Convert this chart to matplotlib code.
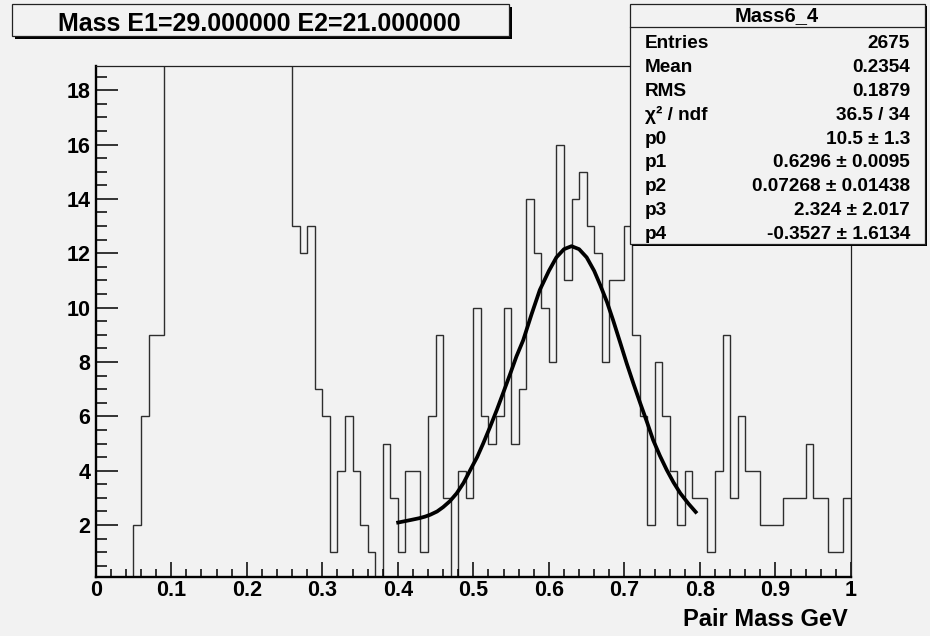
import numpy as np
import matplotlib
matplotlib.use("Agg")
import matplotlib.pyplot as plt
from matplotlib.patches import Rectangle
from matplotlib.ticker import MultipleLocator, FixedLocator, FixedFormatter

plt.rcParams['font.family'] = ['Liberation Sans', 'DejaVu Sans']
plt.rcParams['font.weight'] = 'bold'

# ---------------- data ----------------
x_min, x_max, n_bins = 0.0, 1.0, 100
counts_low = [0, 0, 0, 0, 0, 2, 6, 9, 9]                      # 0.00 - 0.08
counts_offscale = [45, 85, 120, 150, 175, 190, 200, 195, 185,  # 0.09 - 0.25 (above frame)
                   170, 155, 135, 115, 95, 75, 60, 40]
counts_mid = [13, 12, 13, 7, 6, 1, 4, 6, 4, 2, 1, 0, 5, 3, 1, 4, 4, 1, 6, 9,   # 0.26 - 0.45
              3, 0, 4, 3, 10, 6, 5, 6, 10, 5, 7, 14, 12, 10, 8]               # 0.46 - 0.60
counts_high = [16, 11, 14, 15, 13, 12, 8, 11, 11, 13, 9, 6, 2, 8, 6, 4, 2, 4, 3, 3,  # 0.61 - 0.80
               1, 4, 9, 3, 6, 4, 4, 2, 2, 2, 3, 3, 3, 5, 3, 3, 1, 1, 3]            # 0.81 - 0.99

fit_x = [0.398, 0.407, 0.416, 0.428, 0.436, 0.443, 0.452, 0.460, 0.469, 0.478, 0.487,
         0.496, 0.505, 0.513, 0.522, 0.531, 0.540, 0.549, 0.557, 0.566, 0.577, 0.588,
         0.600, 0.610, 0.620, 0.630, 0.640, 0.650, 0.660, 0.668, 0.677, 0.685, 0.694,
         0.703, 0.712, 0.721, 0.730, 0.738, 0.747, 0.756, 0.765, 0.774, 0.785, 0.796]
fit_y = [2.08, 2.13, 2.18, 2.25, 2.31, 2.38, 2.50, 2.66, 2.88, 3.17, 3.55,
         4.03, 4.50, 5.00, 5.60, 6.23, 6.90, 7.58, 8.20, 8.80, 9.75, 10.65,
         11.35, 11.85, 12.15, 12.26, 12.15, 11.85, 11.35, 10.83, 10.20, 9.54, 8.75,
         7.95, 7.20, 6.48, 5.78, 5.13, 4.55, 4.03, 3.57, 3.17, 2.78, 2.43]

title_text = "Mass E1=29.000000 E2=21.000000"
xlabel_text = "Pair Mass GeV"
stats_name = "Mass6_4"
stats_labels = ["Entries", "Mean", "RMS", "χ² / ndf", "p0", "p1", "p2", "p3", "p4"]
stats_values = ["2675", "0.2354", "0.1879", "36.5 / 34", "10.5 ± 1.3",
                "0.6296 ± 0.0095", "0.07268 ± 0.01438", "2.324 ± 2.017",
                "-0.3527 ± 1.6134"]

y_ticks = [2, 4, 6, 8, 10, 12, 14, 16, 18]
x_ticks = [0, 0.1, 0.2, 0.3, 0.4, 0.5, 0.6, 0.7, 0.8, 0.9, 1.0]
x_tick_labels = ["0", "0.1", "0.2", "0.3", "0.4", "0.5", "0.6", "0.7", "0.8", "0.9", "1"]

# ---------------- figure ----------------
W, H = 930, 636
bg = '#f2f2f2'
fig = plt.figure(figsize=(W / 100, H / 100), dpi=100, facecolor=bg)

def fx(px):
    return px / W

def fy(py):
    return 1 - py / H

ax_l, ax_r, ax_t, ax_b = 95.7, 851.0, 65.7, 576.7
ax = fig.add_axes([fx(ax_l), fy(ax_b), fx(ax_r) - fx(ax_l), fy(ax_t) - fy(ax_b)])
ax.set_facecolor(bg)

counts = np.array(counts_low + counts_offscale + counts_mid + counts_high, dtype=float)
edges = np.linspace(x_min, x_max, n_bins + 1)
ax.stairs(counts, edges, color='#2e2e2e', linewidth=1.0, baseline=0)
ax.plot(fit_x, fit_y, color='black', linewidth=2.7, solid_capstyle='butt',
        solid_joinstyle='round', zorder=5)

ax.set_xlim(x_min, x_max)
ax.set_ylim(0.1, 18.9)

ax.xaxis.set_major_locator(FixedLocator(x_ticks))
ax.xaxis.set_major_formatter(FixedFormatter(x_tick_labels))
ax.xaxis.set_minor_locator(MultipleLocator(0.02))
ax.yaxis.set_major_locator(FixedLocator(y_ticks))
ax.yaxis.set_minor_locator(MultipleLocator(0.5))

ax.tick_params(axis='y', which='major', direction='in', length=15.8, width=1.1,
               labelsize=15.5, pad=4.0, left=True, right=False)
ax.tick_params(axis='y', which='minor', direction='in', length=7.9, width=1.1,
               left=True, right=False)
ax.tick_params(axis='x', which='major', direction='in', length=10.8, width=1.1,
               labelsize=15.5, pad=2.5, bottom=True, top=False)
ax.tick_params(axis='x', which='minor', direction='in', length=5.8, width=1.1,
               bottom=True, top=False)
for lab in ax.get_xticklabels() + ax.get_yticklabels():
    lab.set_fontweight('bold')

for s in ['left', 'bottom']:
    ax.spines[s].set_linewidth(1.7)
    ax.spines[s].set_color('black')
for s in ['top', 'right']:
    ax.spines[s].set_linewidth(0.9)
    ax.spines[s].set_color('#222222')

fig.text(fx(848), fy(619), xlabel_text, ha='right', va='center',
         fontsize=17, fontweight='bold')

# ---------------- title box ----------------
def box(x0, y0, x1, y1, shadow=3):
    fig.add_artist(Rectangle((fx(x0 + shadow), fy(y1 + shadow)), fx(x1) - fx(x0),
                             fy(y0) - fy(y1), transform=fig.transFigure,
                             facecolor='black', edgecolor='none', zorder=10))
    fig.add_artist(Rectangle((fx(x0), fy(y1)), fx(x1) - fx(x0), fy(y0) - fy(y1),
                             transform=fig.transFigure, facecolor=bg,
                             edgecolor='#222222', linewidth=0.9, zorder=11))

box(11.7, 4, 509.3, 36, shadow=3)
fig.text(fx(259), fy(30.7), title_text, ha='center', va='baseline',
         fontsize=18, fontweight='bold', zorder=12)

# ---------------- stats box ----------------
sx0, sy0, sx1, sy1 = 630, 4, 925, 244
box(sx0, sy0, sx1, sy1, shadow=2)
fig.add_artist(plt.Line2D([fx(sx0), fx(sx1)], [fy(26.7), fy(26.7)],
                          transform=fig.transFigure, color='#222222',
                          linewidth=0.9, zorder=12))
fig.text(fx(777), fy(20.7), stats_name, ha='center', va='baseline',
         fontsize=14.5, fontweight='bold', zorder=12)
row0, step = 48.3, 23.8
for i, (lab, val) in enumerate(zip(stats_labels, stats_values)):
    yb = fy(row0 + i * step)
    fig.text(fx(645), yb, lab, ha='left', va='baseline', fontsize=13.7,
             fontweight='bold', zorder=12)
    fig.text(fx(910), yb, val, ha='right', va='baseline', fontsize=13.7,
             fontweight='bold', zorder=12)

fig.savefig("out.png", dpi=100, facecolor=bg)
